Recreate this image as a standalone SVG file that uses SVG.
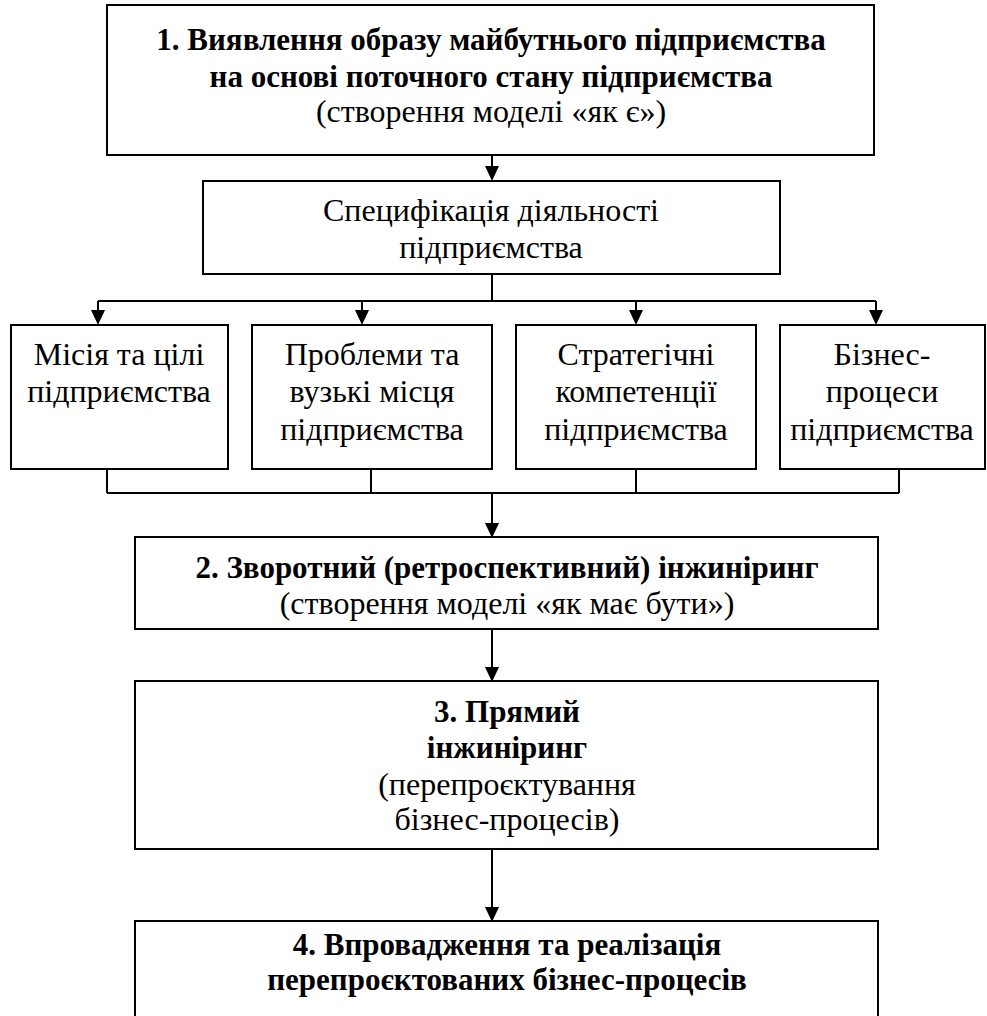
<svg xmlns="http://www.w3.org/2000/svg" width="987" height="1016" viewBox="0 0 987 1016">
<rect width="987" height="1016" fill="#fff"/>
<g id="connectors" stroke="#000" stroke-width="2" fill="none">
<line x1="492" y1="155" x2="492" y2="167"/>
<line x1="492" y1="274" x2="492" y2="301"/>
<line x1="98" y1="301" x2="876" y2="301"/>
<line x1="98" y1="301" x2="98" y2="311"/>
<line x1="362" y1="301" x2="362" y2="311"/>
<line x1="636" y1="301" x2="636" y2="311"/>
<line x1="876" y1="301" x2="876" y2="311"/>
<line x1="107" y1="469" x2="107" y2="493"/>
<line x1="371" y1="469" x2="371" y2="493"/>
<line x1="636" y1="469" x2="636" y2="493"/>
<line x1="899" y1="469" x2="899" y2="493"/>
<line x1="107" y1="493" x2="899" y2="493"/>
<line x1="492" y1="493" x2="492" y2="524"/>
<line x1="492" y1="630" x2="492" y2="668"/>
<line x1="492" y1="849" x2="492" y2="908"/>
<g fill="#000" stroke="none">
<polygon points="485,166 499,166 492,181"/>
<polygon points="91,310 105,310 98,325"/>
<polygon points="355,310 369,310 362,325"/>
<polygon points="629,310 643,310 636,325"/>
<polygon points="869,310 883,310 876,325"/>
<polygon points="485,523 499,523 492,538"/>
<polygon points="485,667 499,667 492,682"/>
<polygon points="485,907 499,907 492,922"/>
</g>
</g>
<g id="n1">
<rect x="107" y="5" width="767" height="150" fill="#fff" stroke="#000" stroke-width="2"/>
<text x="491" y="50" font-family="Liberation Serif" font-size="31" font-weight="bold" text-anchor="middle">1. Виявлення образу майбутнього підприємства</text>
<text x="491" y="87" font-family="Liberation Serif" font-size="31" font-weight="bold" text-anchor="middle">на основі поточного стану підприємства</text>
<text x="491" y="122" font-family="Liberation Serif" font-size="32" text-anchor="middle">(створення моделі «як є»)</text>
</g>
<g id="spec">
<rect x="203" y="181" width="577" height="93" fill="#fff" stroke="#000" stroke-width="2"/>
<text x="491" y="221" font-family="Liberation Serif" font-size="32" text-anchor="middle">Специфікація діяльності</text>
<text x="491" y="258" font-family="Liberation Serif" font-size="32" text-anchor="middle">підприємства</text>
</g>
<g id="mission">
<rect x="11" y="325" width="217" height="144" fill="#fff" stroke="#000" stroke-width="2"/>
<text x="119" y="365" font-family="Liberation Serif" font-size="32" text-anchor="middle">Місія та цілі</text>
<text x="119" y="402" font-family="Liberation Serif" font-size="32" text-anchor="middle">підприємства</text>
</g>
<g id="problems">
<rect x="252" y="325" width="240" height="144" fill="#fff" stroke="#000" stroke-width="2"/>
<text x="372" y="365" font-family="Liberation Serif" font-size="32" text-anchor="middle">Проблеми та</text>
<text x="372" y="402" font-family="Liberation Serif" font-size="32" text-anchor="middle">вузькі місця</text>
<text x="372" y="440" font-family="Liberation Serif" font-size="32" text-anchor="middle">підприємства</text>
</g>
<g id="competencies">
<rect x="516" y="325" width="240" height="144" fill="#fff" stroke="#000" stroke-width="2"/>
<text x="636" y="365" font-family="Liberation Serif" font-size="32" text-anchor="middle">Стратегічні</text>
<text x="636" y="402" font-family="Liberation Serif" font-size="32" text-anchor="middle">компетенції</text>
<text x="636" y="440" font-family="Liberation Serif" font-size="32" text-anchor="middle">підприємства</text>
</g>
<g id="processes">
<rect x="780" y="325" width="205" height="144" fill="#fff" stroke="#000" stroke-width="2"/>
<text x="882" y="365" font-family="Liberation Serif" font-size="32" text-anchor="middle">Бізнес-</text>
<text x="882" y="402" font-family="Liberation Serif" font-size="32" text-anchor="middle">процеси</text>
<text x="882" y="440" font-family="Liberation Serif" font-size="32" text-anchor="middle">підприємства</text>
</g>
<g id="n2">
<rect x="135" y="537" width="743" height="92" fill="#fff" stroke="#000" stroke-width="2"/>
<text x="507" y="578" font-family="Liberation Serif" font-size="31" font-weight="bold" text-anchor="middle">2. Зворотний (ретроспективний) інжиніринг</text>
<text x="507" y="614" font-family="Liberation Serif" font-size="32" text-anchor="middle">(створення моделі «як має бути»)</text>
</g>
<g id="n3">
<rect x="135" y="681" width="743" height="168" fill="#fff" stroke="#000" stroke-width="2"/>
<text x="507" y="722" font-family="Liberation Serif" font-size="31" font-weight="bold" text-anchor="middle">3. Прямий</text>
<text x="507" y="758" font-family="Liberation Serif" font-size="31" font-weight="bold" text-anchor="middle">інжиніринг</text>
<text x="507" y="795" font-family="Liberation Serif" font-size="32" text-anchor="middle">(перепроєктування</text>
<text x="507" y="830" font-family="Liberation Serif" font-size="32" text-anchor="middle">бізнес-процесів)</text>
</g>
<g id="n4">
<rect x="135" y="921" width="743" height="110" fill="#fff" stroke="#000" stroke-width="2"/>
<text x="507" y="955" font-family="Liberation Serif" font-size="31" font-weight="bold" text-anchor="middle">4. Впровадження та реалізація</text>
<text x="507" y="990" font-family="Liberation Serif" font-size="31" font-weight="bold" text-anchor="middle">перепроєктованих бізнес-процесів</text>
</g>
</svg>
